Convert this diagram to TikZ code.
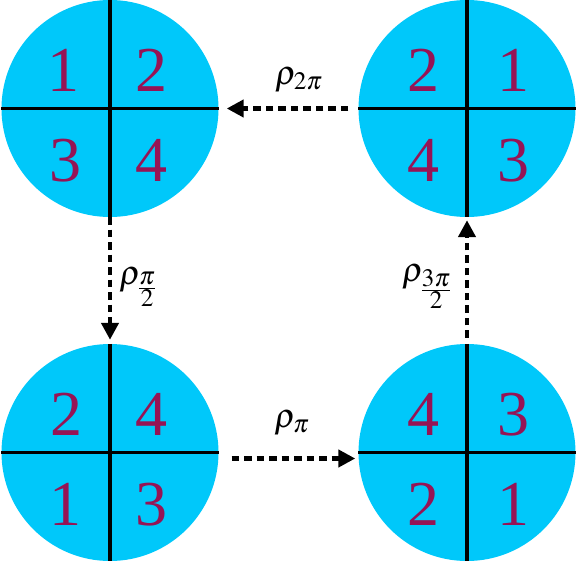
\documentclass[tikz,border=0pt]{standalone}
\usepackage{mathptmx}
\usepackage[no-math]{fontspec}
\setmainfont{Liberation Serif}
\usetikzlibrary{arrows.meta}
\definecolor{disk}{RGB}{0,200,250}
\definecolor{num}{RGB}{150,20,85}
\begin{document}
\begin{tikzpicture}[x=1pt,y=-1pt,
  disc/.style={circle,fill=disk,minimum size=217pt,inner sep=0pt},
  cross/.style={line width=3.6pt,black},
  digit/.style={text=num,inner sep=0pt,font=\fontsize{64}{66}\selectfont},
  dasharrow/.style={line width=4.6pt,dash pattern=on 7.5pt off 5pt,
    -{Triangle[length=17pt,width=17pt]}},
  lbl/.style={inner sep=0pt,font=\fontsize{34}{36}\selectfont}]
\useasboundingbox (0,0) rectangle (576,562);
\node[disc] (tl) at (110,108.5) {};
\node[disc] (tr) at (467,108.5) {};
\node[disc] (bl) at (110,452.5) {};
\node[disc] (br) at (467,452.5) {};
\foreach \c in {tl,tr,bl,br}{
  \draw[cross] (\c.west) -- (\c.east);
  \draw[cross] (\c.north) -- (\c.south);
}
% digits
\node[digit] (tl1) at ([shift={(-47,-38)}]tl.center) {1};
\node[digit] (tl2) at ([shift={(41,-38)}]tl.center) {2};
\node[digit] (tl3) at ([shift={(-45,52)}]tl.center) {3};
\node[digit] (tl4) at ([shift={(41,52)}]tl.center) {4};
\node[digit] (tr2) at ([shift={(-44,-38)}]tr.center) {2};
\node[digit] (tr1) at ([shift={(46,-38)}]tr.center) {1};
\node[digit] (tr4) at ([shift={(-44,52)}]tr.center) {4};
\node[digit] (tr3) at ([shift={(46,52)}]tr.center) {3};
\node[digit] (bl2) at ([shift={(-44,-38)}]bl.center) {2};
\node[digit] (bl4) at ([shift={(41,-38)}]bl.center) {4};
\node[digit] (bl1) at ([shift={(-45,52)}]bl.center) {1};
\node[digit] (bl3) at ([shift={(41,52)}]bl.center) {3};
\node[digit] (br4) at ([shift={(-44,-38)}]br.center) {4};
\node[digit] (br3) at ([shift={(46,-38)}]br.center) {3};
\node[digit] (br2) at ([shift={(-44,52)}]br.center) {2};
\node[digit] (br1) at ([shift={(46,52)}]br.center) {1};
% arrows
\draw[dasharrow] ([shift={(-10,0)}]tr.west) -- ([shift={(8,0)}]tl.east);
\draw[dasharrow] (tl.south) -- ([shift={(0,-4)}]bl.north);
\draw[dasharrow] ([shift={(13,6)}]bl.east) -- ([shift={(-3,6)}]br.west);
\draw[dasharrow] ([shift={(0,-6)}]br.north) -- ([shift={(0,3)}]tr.south);
% labels
\node[lbl] (l2pi) at (299,80) {$\rho_{2\pi}$};
\node[lbl] (lpi) at (292,423) {$\rho_{\pi}$};
\node[lbl] (lhalf) at (138,287) {$\rho_{\frac{\scriptstyle\pi}{\scriptstyle 2}}$};
\node[lbl] (l3half) at (427,287) {$\rho_{\frac{\scriptstyle 3\pi}{\scriptstyle 2}}$};
\end{tikzpicture}
\end{document}
